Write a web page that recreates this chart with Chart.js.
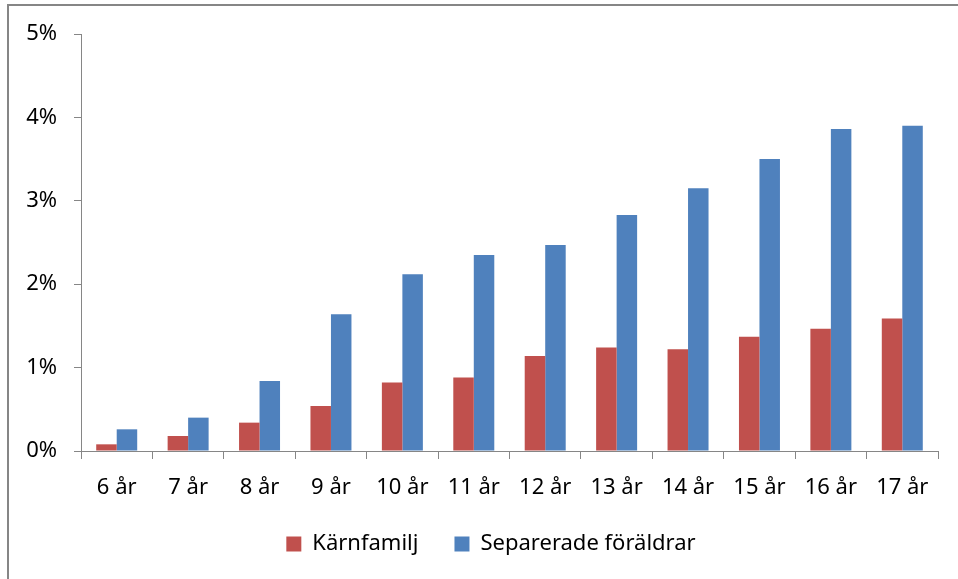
<!DOCTYPE html>
<html>
<head>
<meta charset="utf-8">
<script src="https://cdn.jsdelivr.net/npm/chart.js"></script>
<style>
  html, body { margin: 0; padding: 0; background: #fff; }
  #wrap { position: relative; width: 958px; height: 579px; }
</style>
</head>
<body>
<div id="wrap"><canvas id="c"></canvas></div>
<script>
const categories = ["6 år", "7 år", "8 år", "9 år", "10 år", "11 år", "12 år", "13 år", "14 år", "15 år", "16 år", "17 år"];
const karnfamilj = [0.08, 0.18, 0.34, 0.54, 0.82, 0.88, 1.14, 1.24, 1.22, 1.37, 1.465, 1.59];
const separerade = [0.26, 0.40, 0.84, 1.64, 2.12, 2.35, 2.47, 2.83, 3.15, 3.50, 3.86, 3.90];
const yTicks = [0, 1, 2, 3, 4, 5];

const axisGrey = "#868686";
const font = { family: "Noto Sans", size: 22 };

// gray frame round the chart (top and left edges visible)
const frame = {
  id: "frame",
  beforeDraw(chart) {
    const ctx = chart.ctx;
    ctx.save();
    ctx.strokeStyle = axisGrey;
    ctx.lineWidth = 2;
    ctx.strokeRect(8, 5, 1000, 1000);
    ctx.restore();
  }
};

// legend sits a bit right of centre in the original
const legendShift = {
  id: "legendShift",
  afterLayout(chart) {
    chart.legend.left += 22;
    chart.legend.right += 22;
  }
};

new Chart(document.getElementById("c"), {
  type: "bar",
  data: {
    labels: categories,
    datasets: [
      { label: "Kärnfamilj", data: karnfamilj, backgroundColor: "#C0504D", borderWidth: 0 },
      { label: "Separerade föräldrar", data: separerade, backgroundColor: "#4F81BD", borderWidth: 0 }
    ]
  },
  options: {
    responsive: true,
    maintainAspectRatio: false,
    animation: false,
    categoryPercentage: 0.574,
    barPercentage: 1.0,
    layout: { padding: { top: 34, right: 20, left: 0, bottom: 14 } },
    plugins: {
      tooltip: { enabled: false },
      legend: {
        position: "bottom",
        labels: {
          color: "#000",
          font: font,
          boxWidth: 15,
          boxHeight: 15,
          padding: 36
        }
      }
    },
    scales: {
      x: {
        afterFit(scale) { scale.height = 46; },
        grid: { offset: true, drawOnChartArea: false, drawTicks: true, tickLength: 8, color: axisGrey },
        border: { color: axisGrey, width: 1 },
        ticks: { color: "#000", font: font, padding: 16, maxRotation: 0, autoSkip: false }
      },
      y: {
        min: 0,
        max: 5,
        afterFit(scale) { scale.width = 81; },
        afterBuildTicks(scale) { scale.ticks = yTicks.map(v => ({ value: v })); },
        grid: { drawOnChartArea: false, drawTicks: true, tickLength: 7, color: axisGrey },
        border: { color: axisGrey, width: 1 },
        ticks: { color: "#000", font: font, padding: 17, callback: v => v + "%" }
      }
    }
  },
  plugins: [frame, legendShift]
});
</script>
</body>
</html>
